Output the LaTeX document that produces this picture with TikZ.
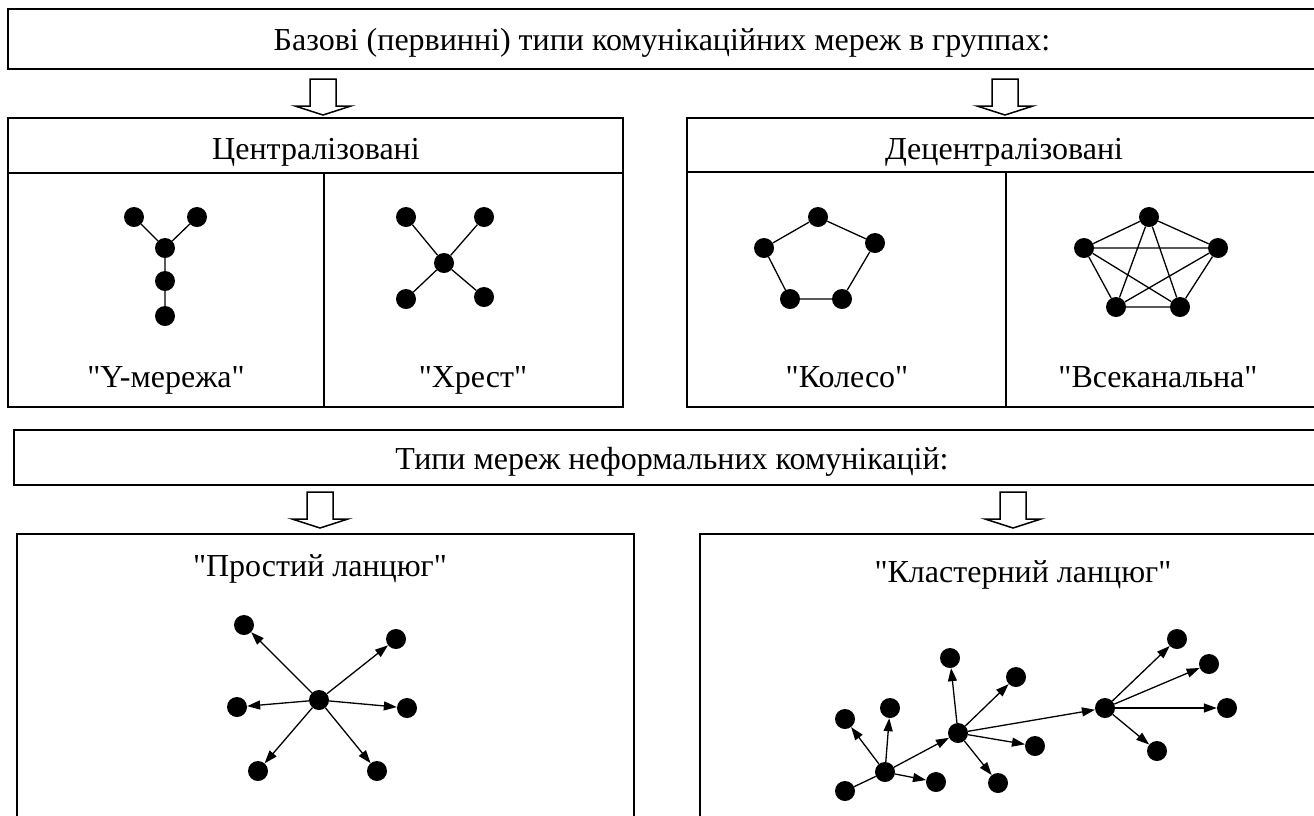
\documentclass[tikz,border=0pt]{standalone}
\usepackage{fontspec}
\setmainfont{Liberation Serif}[Ligatures=TeXOff]
\usetikzlibrary{arrows.meta}
\begin{document}
\begin{tikzpicture}[x=1pt,y=-1pt,
  frame/.style={line width=1.6pt},
  lbl/.style={font=\fontsize{32}{38}\selectfont, anchor=base, inner sep=0pt},
  vtx/.style={circle, fill=black, minimum size=20pt, inner sep=0pt},
  edge/.style={line width=1.3pt},
  arr/.style={line width=1.3pt, -{Triangle[length=13pt,width=9pt]}},
  downarrow/.pic={\draw[line width=1.5pt, fill=white] (-13,0) -- (13,0) -- (13,27) -- (28,27) -- (0,36) -- (-28,27) -- (-13,27) -- cycle;}]
\useasboundingbox (0,0) rectangle (1314,815);
\clip (0,0) rectangle (1314,815);

% ---- frames ----
\draw[frame] (8,9) rectangle (1330,69);
\draw[frame] (8,118) rectangle (623,407);
\draw[frame] (8,173) -- (623,173);
\draw[frame] (324,173) -- (324,407);
\draw[frame] (687,118) rectangle (1330,407);
\draw[frame] (687,172) -- (1330,172);
\draw[frame] (1006,172) -- (1006,407);
\draw[frame] (14,430) rectangle (1330,485);
\draw[frame] (17,534) rectangle (634,840);
\draw[frame] (700,534) rectangle (1330,840);

% ---- block arrows ----
\pic at (323,79) {downarrow};
\pic at (1005,79) {downarrow};
\pic at (320,492) {downarrow};
\pic at (1013,492) {downarrow};

% ---- texts ----
\node[lbl] (t1) at (662,50) {Базові (первинні) типи комунікаційних мереж в группах:};
\node[lbl] (tc) at (316,159) {Централізовані};
\node[lbl] (td) at (1004,159) {Децентралізовані};
\node[lbl] (ty) at (166,387) {"Y-мережа"};
\node[lbl] (tx) at (473,387) {"Хрест"};
\node[lbl] (tk) at (847,387) {"Колесо"};
\node[lbl] (tv) at (1158,387) {"Всеканальна"};
\node[lbl] (t2) at (672,469) {Типи мереж неформальних комунікацій:};
\node[lbl] (tp) at (320,576) {"Простий ланцюг"};
\node[lbl] (tl) at (1023,582) {"Кластерний ланцюг"};

% ---- Y network ----
\node[vtx] (y1) at (134,217) {};
\node[vtx] (y2) at (197,217) {};
\node[vtx] (y3) at (165,248) {};
\node[vtx] (y4) at (165,281) {};
\node[vtx] (y5) at (165,316) {};
\draw[edge] (y1) -- (y3) (y2) -- (y3) (y3) -- (y4) (y4) -- (y5);

% ---- cross ----
\node[vtx] (x1) at (406,217) {};
\node[vtx] (x2) at (484,217) {};
\node[vtx] (x0) at (444,263) {};
\node[vtx] (x3) at (406,299) {};
\node[vtx] (x4) at (484,297) {};
\draw[edge] (x1) -- (x0) (x2) -- (x0) (x3) -- (x0) (x4) -- (x0);

% ---- wheel ----
\node[vtx] (k1) at (818,217) {};
\node[vtx] (k2) at (875,243) {};
\node[vtx] (k3) at (842,299) {};
\node[vtx] (k4) at (790,299) {};
\node[vtx] (k5) at (764,248) {};
\draw[edge] (k1) -- (k2) (k2) -- (k3) (k3) -- (k4) (k4) -- (k5) (k5) -- (k1);

% ---- all-channel ----
\node[vtx] (v1) at (1149,217) {};
\node[vtx] (v2) at (1218,248) {};
\node[vtx] (v3) at (1180,307) {};
\node[vtx] (v4) at (1116,307) {};
\node[vtx] (v5) at (1084,248) {};
\draw[edge] (v1) -- (v2) (v1) -- (v3) (v1) -- (v4) (v1) -- (v5)
            (v2) -- (v3) (v2) -- (v4) (v2) -- (v5)
            (v3) -- (v4) (v3) -- (v5) (v4) -- (v5);

% ---- simple chain ----
\node[vtx] (s0) at (319,700) {};
\node[vtx] (s1) at (244,625) {};
\node[vtx] (s2) at (396,639) {};
\node[vtx] (s3) at (237,707) {};
\node[vtx] (s4) at (407,708) {};
\node[vtx] (s5) at (258,771) {};
\node[vtx] (s6) at (377,771) {};
\foreach \t in {s1,s2,s3,s4,s5,s6} \draw[arr] (s0) -- (\t);

% ---- cluster chain ----
\node[vtx] (ca) at (845,791) {};
\node[vtx] (cb) at (885,772) {};
\node[vtx] (cc) at (845,719) {};
\node[vtx] (cd) at (890,708) {};
\node[vtx] (ce) at (936,782) {};
\node[vtx] (cf) at (958,733) {};
\node[vtx] (cg) at (950,658) {};
\node[vtx] (ch) at (1016,677) {};
\node[vtx] (ci) at (1035,746) {};
\node[vtx] (cj) at (998,783) {};
\node[vtx] (ck) at (1105,708) {};
\node[vtx] (cl) at (1177,639) {};
\node[vtx] (cm) at (1209,664) {};
\node[vtx] (cn) at (1227,708) {};
\node[vtx] (co) at (1157,751) {};
\draw[edge] (ca) -- (cb);
\foreach \t in {cc,cd,ce,cf} \draw[arr] (cb) -- (\t);
\foreach \t in {cg,ch,ci,cj,ck} \draw[arr] (cf) -- (\t);
\foreach \t in {cl,cm,cn,co} \draw[arr] (ck) -- (\t);
\end{tikzpicture}
\end{document}
